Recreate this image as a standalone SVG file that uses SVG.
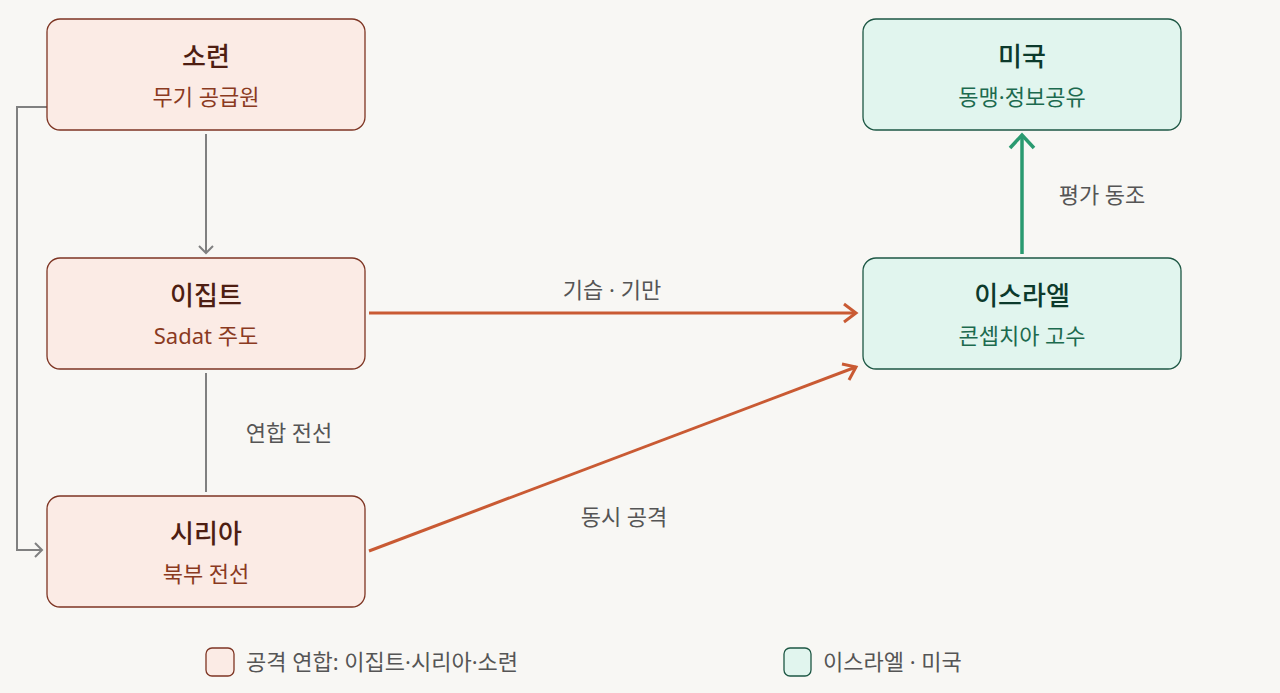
<svg xmlns="http://www.w3.org/2000/svg" width="1280" height="693" viewBox="0 0 1280 693">
<defs>
<style>
text{font-family:"Noto Sans","Noto Sans CJK KR",sans-serif;}
.pk{fill:#fbebe5;stroke:#7e3523;stroke-width:1.3;}
.gn{fill:#e1f5ee;stroke:#1d5744;stroke-width:1.3;}
.tp{fill:#4e1e12;font-size:26px;font-weight:500;text-anchor:middle;}
.sp{fill:#8a3a1f;font-size:22px;text-anchor:middle;}
.tg{fill:#0c3a2c;font-size:26px;font-weight:500;text-anchor:middle;}
.sg{fill:#1c6a4e;font-size:22px;text-anchor:middle;}
.lb{fill:#555;font-size:22px;}
.lg{fill:#555;font-size:22px;}
.gray{stroke:#808080;stroke-width:2;fill:none;}
.or{stroke:#c95a33;stroke-width:3;fill:none;}
.gr{stroke:#2a9a70;stroke-width:3.5;fill:none;}
</style>
</defs>
<rect width="1280" height="693" fill="#f8f7f4"/>
<g id="connectors">
<path class="gray" d="M206,134 V253"/>
<path class="gray" d="M199,246 L206,253 L213,246"/>
<path class="gray" d="M206,373 V492"/>
<path class="gray" d="M47,107 H17 V550 H42"/>
<path class="gray" d="M35,543 L42,550 L35,557"/>
<path class="or" d="M369,313 H856"/>
<path class="or" d="M844,304 L856,313 L844,322"/>
<path class="or" d="M369,551 L856,367"/>
<path class="or" d="M842,364 L856,367 L849,380"/>
<path class="gr" d="M1022,254 V135"/>
<path class="gr" d="M1010,148 L1022,135 L1034,148"/>
<text class="lb" x="612" y="298" text-anchor="middle">기습 · 기만</text>
<text class="lb" x="289" y="441" text-anchor="middle">연합 전선</text>
<text class="lb" x="624" y="525" text-anchor="middle">동시 공격</text>
<text class="lb" x="1102" y="203" text-anchor="middle">평가 동조</text>
</g>
<g id="soviet"><rect class="pk" x="47" y="19" width="318" height="111" rx="13"/><text class="tp" x="206" y="66">소련</text><text class="sp" x="206" y="105">무기 공급원</text></g>
<g id="egypt"><rect class="pk" x="47" y="258" width="318" height="111" rx="13"/><text class="tp" x="206" y="305">이집트</text><text class="sp" x="206" y="344">Sadat 주도</text></g>
<g id="syria"><rect class="pk" x="47" y="496" width="318" height="111" rx="13"/><text class="tp" x="206" y="543">시리아</text><text class="sp" x="206" y="582">북부 전선</text></g>
<g id="usa"><rect class="gn" x="863" y="19" width="318" height="111" rx="13"/><text class="tg" x="1022" y="66">미국</text><text class="sg" x="1022" y="105">동맹·정보공유</text></g>
<g id="israel"><rect class="gn" x="863" y="258" width="318" height="111" rx="13"/><text class="tg" x="1022" y="305">이스라엘</text><text class="sg" x="1022" y="344">콘셉치아 고수</text></g>
<g id="legend">
<rect class="pk" x="206" y="648" width="28" height="28" rx="6"/>
<text class="lg" x="246" y="670">공격 연합: 이집트·시리아·소련</text>
<rect class="gn" x="784" y="648" width="27" height="28" rx="6"/>
<text class="lg" x="823" y="670">이스라엘 · 미국</text>
</g>
</svg>
